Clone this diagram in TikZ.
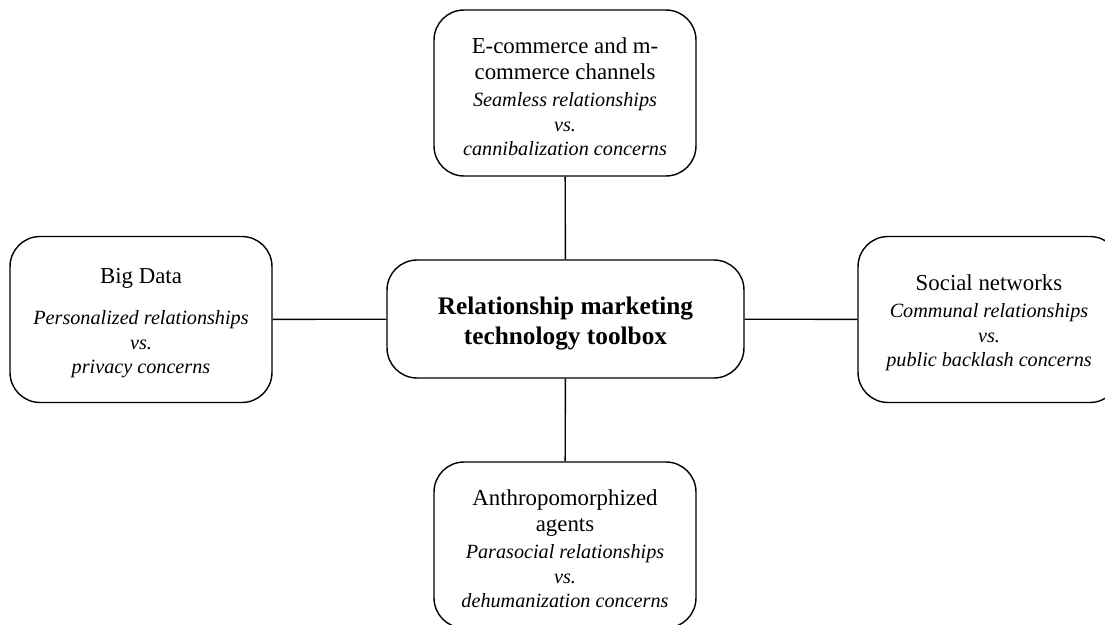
\documentclass[tikz,border=0pt]{standalone}
\usepackage{fontspec}
\setmainfont{Liberation Serif}
\newcommand{\topic}{\fontsize{13}{15.3}\selectfont}
\newcommand{\tension}{\itshape\fontsize{11.5}{13.9}\selectfont}

\begin{document}
\begin{tikzpicture}[x=0.02cm,y=-0.02cm,line width=0.8pt,
  box/.style={draw,rounded corners=0.6cm,minimum width=5.24cm,minimum height=3.32cm,align=center,inner sep=0pt,font=\topic},
  hub/.style={box,minimum width=7.14cm,minimum height=2.36cm,font=\bfseries\fontsize{14.4}{17}\selectfont}]
\clip (0,0) rectangle (1105,625);
\node[hub] (toolbox) at (565.5,319) {\rule{0pt}{15pt}Relationship marketing\\technology toolbox};
\node[box] (ecom) at (565,93) {\rule{0pt}{13pt}E-commerce and m-\\commerce channels\\\tension Seamless relationships\\[-1.4pt]\tension vs.\\[-1.4pt]\tension cannibalization concerns};
\node[box] (bigdata) at (141,319.5) {\rule{0pt}{13pt}Big Data\\[8pt]\tension Personalized relationships\\[-1.4pt]\tension vs.\\[-1.4pt]\tension privacy concerns};
\node[box] (social) at (989,319.5) {\rule{0pt}{13pt}Social networks\\\tension Communal relationships\\[-1.4pt]\tension vs.\\[-1.4pt]\tension public backlash concerns};
\node[box] (agents) at (565,545) {\rule{0pt}{13pt}Anthropomorphized\\agents\\\tension Parasocial relationships\\[-1.4pt]\tension vs.\\[-1.4pt]\tension dehumanization concerns};
% spokes
\foreach \n in {ecom,bigdata,social,agents}
  \draw (toolbox) -- (\n);
\end{tikzpicture}
\end{document}
